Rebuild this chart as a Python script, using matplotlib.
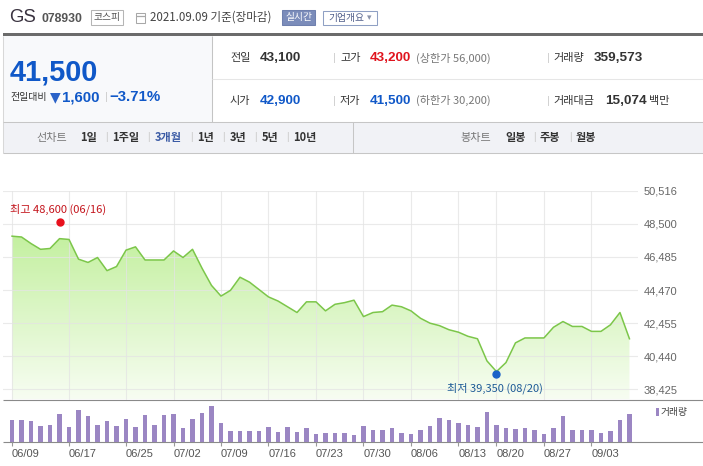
import numpy as np
import matplotlib
matplotlib.use('Agg')
import matplotlib.pyplot as plt
from matplotlib.colors import LinearSegmentedColormap
from matplotlib.patches import Rectangle

plt.rcParams['font.family'] = ['Noto Sans CJK KR', 'DejaVu Sans']

# ---------------- data ----------------
dates = ['06/09', '06/10', '06/11', '06/14', '06/15', '06/16', '06/17', '06/18', '06/21', '06/22',
         '06/23', '06/24', '06/25', '06/28', '06/29', '06/30',
         '07/01', '07/02', '07/05', '07/06', '07/07', '07/08', '07/09', '07/12', '07/13', '07/14',
         '07/15', '07/16', '07/19', '07/20', '07/21', '07/22', '07/23', '07/26', '07/27', '07/28',
         '07/29', '07/30',
         '08/02', '08/03', '08/04', '08/05', '08/06', '08/09', '08/10', '08/11', '08/12', '08/13',
         '08/17', '08/18', '08/19', '08/20', '08/23', '08/24', '08/25', '08/26', '08/27', '08/30',
         '08/31',
         '09/01', '09/02', '09/03', '09/06', '09/07', '09/08', '09/09']

prices = [47750, 47700, 47300, 46950, 47000, 47600, 47550, 46350, 46150, 46450,
          45650, 45900, 46900, 47100, 46300, 46300, 46300, 46850, 46450, 46950,
          45800, 44750, 44100, 44450, 45250, 44950, 44500, 44050, 43800, 43450,
          43100, 43750, 43750, 43200, 43600, 43700, 43850, 42850, 43100, 43150,
          43550, 43450, 43200, 42750, 42450, 42300, 42050, 41900, 41650, 41500,
          40150, 39500, 40050, 41250, 41550, 41550, 41550, 42200, 42550, 42250,
          42250, 41950, 41950, 42350, 43100, 41500]

volumes = [283000, 283000, 271000, 207000, 220000, 360000, 195000, 410000, 334000, 220000,
           271000, 207000, 296000, 195000, 347000, 220000, 347000, 360000, 182000, 296000,
           372000, 461000, 245000, 144000, 144000, 144000, 144000, 195000, 131000, 195000,
           131000, 182000, 106000, 118000, 118000, 118000, 93000, 207000, 157000, 157000,
           182000, 118000, 106000, 157000, 207000, 309000, 283000, 245000, 220000, 195000,
           385000, 220000, 182000, 169000, 182000, 157000, 106000, 182000, 334000, 157000,
           157000, 157000, 118000, 144000, 283000, 359573]

tick_dates = ['06/09', '06/17', '06/25', '07/02', '07/09', '07/16', '07/23', '07/30',
              '08/06', '08/13', '08/20', '08/27', '09/03']
y_ticks = [38425, 40440, 42455, 44470, 46485, 48500, 50516]

high_value, high_date = 48600, '06/16'
low_value, low_date = 39350, '08/20'

# ---------------- figure ----------------
W, H = 703, 466
fig = plt.figure(figsize=(7.03, 4.66), dpi=100)
ov = fig.add_axes([0, 0, 1, 1])
ov.set_xlim(0, W)
ov.set_ylim(H, 0)
ov.axis('off')

NUM = ['Liberation Sans', 'Noto Sans CJK KR', 'DejaVu Sans']
KR = ['Noto Sans CJK KR', 'DejaVu Sans']


def txt(x, y, s, size=8, color='#333333', weight='normal', ha='left', va='center', fam=KR,
        axis=None, **kw):
    (axis or ov).text(x, y, s, fontsize=size, color=color, fontweight=weight, ha=ha, va=va,
                      family=fam, **kw)


def hline(x0, x1, y, color, lw=0.75):
    ov.plot([x0, x1], [y, y], color=color, lw=lw, solid_capstyle='butt')


def vline(x, y0, y1, color, lw=0.75):
    ov.plot([x, x], [y0, y1], color=color, lw=lw, solid_capstyle='butt')


# ---------- header ----------
txt(9, 17.5, 'GS', size=13.4, color='#3a3340', fam=['Liberation Sans', 'DejaVu Sans'])
txt(41, 18.5, '078930', size=8.8, color='#555555', weight='bold', fam=NUM)
ov.add_patch(Rectangle((91.3, 10), 32, 14.5, fill=False, ec='#b5b5b5', lw=0.75))
txt(107.3, 17.3, '코스피', size=7, color='#555555', ha='center')
# small calendar icon
ov.add_patch(Rectangle((136, 13), 9, 10, fill=False, ec='#a8a8a8', lw=0.75))
hline(136, 145, 15.5, '#a8a8a8', lw=0.9)
txt(150, 17.3, '2021.09.09 기준(장마감)', size=8.3, color='#444444')
ov.add_patch(Rectangle((282, 10), 33.3, 14.5, fc='#7b8cba', ec='#6f80ae', lw=0.75))
txt(298.6, 17.3, '실시간', size=7, color='white', ha='center')
ov.add_patch(Rectangle((323.3, 10.5), 53.5, 14, fc='white', ec='#8fa0c4', lw=0.75))
txt(328, 17.5, '기업개요', size=7, color='#4d5c88')
txt(366.5, 17.8, '▾', size=6.5, color='#8a93aa', fam=['DejaVu Sans'])

# thick line
ov.add_patch(Rectangle((3, 33.3), 700, 2.8, fc='#6b6b6b', ec='none'))

# left summary panel
ov.add_patch(Rectangle((3, 36.1), 208.5, 86.2, fc='#f8f9fb', ec='none'))
vline(211.5, 36, 122.3, '#c4c4c4')
vline(3.3, 36, 153.3, '#d8d8d8')
hline(211.5, 703, 79.3, '#e6e6e6')

BLUE = '#1058c8'
txt(9.3, 80.2, '41,500', size=20.8, color=BLUE, weight='bold', va='baseline', fam=NUM)
txt(10, 97.3, '전일대비', size=7.2, color='#333333')
txt(49.5, 97.5, '▼', size=10, color='#2a62c8', fam=['DejaVu Sans'])
txt(61.7, 97.3, '1,600', size=10.8, color=BLUE, weight='bold', fam=NUM)
txt(104.5, 97.3, '|', size=8, color='#cccccc', fam=NUM)
txt(109.5, 97.3, '−3.71%', size=10.8, color=BLUE, weight='bold', fam=NUM)

# info rows
RED = '#e0141e'
r1, r2 = 58.3, 100.8
txt(230, r1, '전일', size=8, color='#333333')
txt(259.5, r1, '43,100', size=9.7, color='#333333', weight='bold', fam=NUM)
txt(230, r2, '시가', size=8, color='#333333')
txt(259.5, r2, '42,900', size=9.7, color=BLUE, weight='bold', fam=NUM)
for yy in (r1, r2):
    txt(333, yy, '|', size=8, color='#cccccc', fam=NUM)
    txt(547, yy, '|', size=8, color='#cccccc', fam=NUM)
txt(340, r1, '고가', size=8, color='#333333')
txt(369.3, r1, '43,200', size=9.7, color=RED, weight='bold', fam=NUM)
txt(416, r1, '(상한가 56,000)', size=8, color='#777777')
txt(340, r2, '저가', size=8, color='#333333')
txt(369.3, r2, '41,500', size=9.7, color=BLUE, weight='bold', fam=NUM)
txt(416, r2, '(하한가 30,200)', size=8, color='#777777')
txt(553.5, r1, '거래량', size=8, color='#333333')
txt(594, r1, '359,573', size=9.7, color='#333333', weight='bold', fam=NUM)
txt(553.5, r2, '거래대금', size=8, color='#333333')
txt(605.5, r2, '15,074', size=9.7, color='#333333', weight='bold', fam=NUM)
txt(648.5, r2, '백만', size=8, color='#333333')

# tab bar
ov.add_patch(Rectangle((3, 122.3), 700, 31, fc='#f1f2f6', ec='none'))
hline(3, 703, 122.3, '#c6c6c6')
hline(3, 703, 153.3, '#c6c6c6')
vline(353.3, 122.3, 153.3, '#c6c6c6')
tb = 137.5
txt(36.7, tb, '선차트', size=8, color='#777777')
tabs = [(80, '1일'), (112.5, '1주일'), (155, '3개월'), (197.3, '1년'), (229.3, '3년'),
        (261.3, '5년'), (293.3, '10년')]
for xx, s in tabs:
    txt(xx, tb, s, size=8, color='#3b5ba5' if s == '3개월' else '#333333', weight='bold')
for xx in (105, 147.3, 190, 222.3, 254, 286):
    txt(xx, tb, '|', size=7.5, color='#cccccc', fam=NUM)
txt(460, tb, '봉차트', size=8, color='#777777')
txt(505, tb, '일봉', size=8, color='#333333', weight='bold')
txt(533.3, tb, '|', size=7.5, color='#cccccc', fam=NUM)
txt(540, tb, '주봉', size=8, color='#333333', weight='bold')
txt(568.7, tb, '|', size=7.5, color='#cccccc', fam=NUM)
txt(576, tb, '월봉', size=8, color='#333333', weight='bold')


# ---------- chart axes ----------
def ax_rect(l, t, r, b):
    return [l / W, 1 - b / H, (r - l) / W, (b - t) / H]


axp = fig.add_axes(ax_rect(3, 190.7, 638, 399.5))
axv = fig.add_axes(ax_rect(3, 399.5, 638, 442.3))
for a in (axp, axv):
    a.patch.set_alpha(0)
    for sp in a.spines.values():
        sp.set_visible(False)

x = np.arange(len(prices))
tick_pos = [dates.index(d) for d in tick_dates]
XL = (-0.95, 65.9)
YL = (37800, 50520)

# gradient area
cmap = LinearSegmentedColormap.from_list('g', ['#f7fdf2', '#c4f0a0'])
grad = np.linspace(0, 1, 256).reshape(-1, 1)
im = axp.imshow(grad, extent=[XL[0], XL[1], YL[0], max(prices)], origin='lower',
                aspect='auto', cmap=cmap, zorder=1)
poly = axp.fill_between(x, prices, YL[0], facecolor='none', edgecolor='none')
im.set_clip_path(poly.get_paths()[0], transform=axp.transData)
axp.plot(x, prices, color='#7cc64a', lw=1.1, zorder=4)

axp.set_xlim(*XL)
axp.set_ylim(*YL)
axp.set_xticks(tick_pos)
axp.set_xticklabels([])
axp.set_yticks(y_ticks)
axp.set_yticklabels([f'{v:,}' for v in y_ticks])
axp.yaxis.tick_right()
axp.tick_params(axis='both', length=0)
axp.tick_params(axis='y', pad=4, labelsize=8, labelcolor='#666666')
for lab in axp.get_yticklabels():
    lab.set_family(NUM)
axp.grid(True, color='#e4e4e4', lw=0.8, alpha=0.75, zorder=2)
axp.set_axisbelow(False)

# high / low markers
hi_i = dates.index(high_date)
lo_i = dates.index(low_date)
axp.plot(hi_i, high_value, 'o', color='#e8101c', ms=5, zorder=6)
axp.plot(lo_i, low_value, 'o', color='#1b62c8', ms=5, zorder=6)

# volume
axv.bar(x, volumes, width=0.48, color='#9b86c3', zorder=3)
axv.set_xlim(*XL)
axv.set_ylim(0, 543000)
axv.set_yticks([])
axv.set_xticks(tick_pos)
axv.set_xticklabels(tick_dates)
axv.tick_params(axis='x', direction='out', length=2.6, width=0.8, color='#999999',
                pad=2.2, labelsize=8, labelcolor='#555555')
for lab in axv.get_xticklabels():
    lab.set_family(NUM)
    lab.set_horizontalalignment('left')

# separators & baseline
hline(3, 703, 399.6, '#8a8a8a', lw=0.8)
hline(3, 703, 442.3, '#8a8a8a', lw=0.8)

# top overlay for annotations drawn above the chart
top = fig.add_axes([0, 0, 1, 1], zorder=10)
top.set_xlim(0, W)
top.set_ylim(H, 0)
top.axis('off')
top.patch.set_alpha(0)
txt(10.5, 209.3, f'최고 {high_value:,} ({high_date})', size=8, color='#c4141c', axis=top)
txt(447.3, 388.3, f'최저 {low_value:,} ({low_date})', size=8, color='#1d5a96', axis=top)

# volume legend
top.add_patch(Rectangle((656.3, 408), 3, 8, fc='#9b86c3', ec='none'))
txt(661, 412, '거래량', size=7, color='#444444', axis=top)

fig.savefig('out.png', dpi=100)
